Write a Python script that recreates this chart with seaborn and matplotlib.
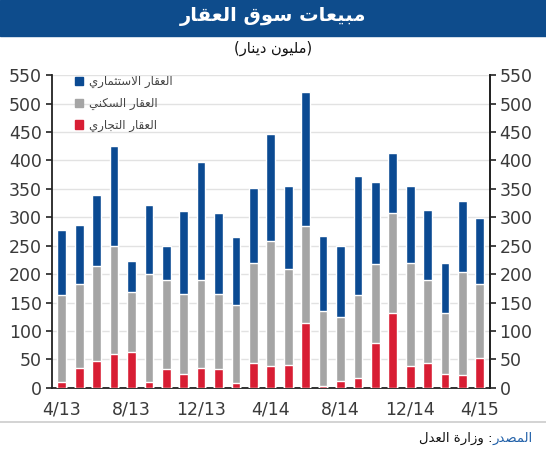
import numpy as np
import pandas as pd
import matplotlib
matplotlib.use("Agg")
import matplotlib.pyplot as plt
import seaborn as sns
from matplotlib.patches import Rectangle, Patch
from matplotlib.lines import Line2D

# --- data (million KD) ---
months = ["4/13", "5/13", "6/13", "7/13", "8/13", "9/13", "10/13", "11/13", "12/13",
          "1/14", "2/14", "3/14", "4/14", "5/14", "6/14", "7/14", "8/14", "9/14",
          "10/14", "11/14", "12/14", "1/15", "2/15", "3/15", "4/15"]
commercial = [11, 35, 48, 60, 64, 11, 33, 24, 35, 33, 8, 43, 38,
              40, 115, 3, 13, 17, 79, 131, 39, 44, 25, 22, 53]
residential = [152, 148, 166, 190, 105, 189, 156, 141, 155, 133, 137, 176, 220,
               169, 170, 132, 112, 147, 139, 177, 180, 146, 107, 181, 130]
investment = [115, 104, 125, 176, 54, 121, 61, 146, 208, 141, 120, 132, 189,
              146, 236, 133, 125, 208, 144, 105, 136, 123, 88, 126, 115]
tick_labels = ["4/13", "8/13", "12/13", "4/14", "8/14", "12/14", "4/15"]

BLUE = "#0B4A92"
GREY = "#A5A5A5"
RED = "#D81E34"
BANNER = "#0E4C8C"

# --- tiny arabic shaper (presentation forms, visual order) ---
FORMS = {
    "ا": (0xFE8D, 0xFE8E, None, None), "ب": (0xFE8F, 0xFE90, 0xFE91, 0xFE92),
    "ة": (0xFE93, 0xFE94, None, None), "ت": (0xFE95, 0xFE96, 0xFE97, 0xFE98),
    "ث": (0xFE99, 0xFE9A, 0xFE9B, 0xFE9C), "ج": (0xFE9D, 0xFE9E, 0xFE9F, 0xFEA0),
    "د": (0xFEA9, 0xFEAA, None, None), "ر": (0xFEAD, 0xFEAE, None, None),
    "ز": (0xFEAF, 0xFEB0, None, None), "س": (0xFEB1, 0xFEB2, 0xFEB3, 0xFEB4),
    "ص": (0xFEB9, 0xFEBA, 0xFEBB, 0xFEBC), "ع": (0xFEC9, 0xFECA, 0xFECB, 0xFECC),
    "ق": (0xFED5, 0xFED6, 0xFED7, 0xFED8), "ك": (0xFED9, 0xFEDA, 0xFEDB, 0xFEDC),
    "ل": (0xFEDD, 0xFEDE, 0xFEDF, 0xFEE0), "م": (0xFEE1, 0xFEE2, 0xFEE3, 0xFEE4),
    "ن": (0xFEE5, 0xFEE6, 0xFEE7, 0xFEE8), "و": (0xFEED, 0xFEEE, None, None),
    "ي": (0xFEF1, 0xFEF2, 0xFEF3, 0xFEF4), "لا": (0xFEFB, 0xFEFC, None, None),
}


def shape(text):
    tokens, i = [], 0
    while i < len(text):
        if text[i] == "ل" and i + 1 < len(text) and text[i + 1] == "ا":
            tokens.append("لا")
            i += 2
        else:
            tokens.append(text[i])
            i += 1
    out = []
    for j, t in enumerate(tokens):
        if t not in FORMS:
            out.append(t)
            continue
        prev = tokens[j - 1] if j > 0 else None
        nxt = tokens[j + 1] if j + 1 < len(tokens) else None
        iso, fin, ini, med = FORMS[t]
        jp = prev in FORMS and FORMS[prev][2] is not None
        jn = nxt in FORMS and ini is not None
        if jp and jn:
            c = med
        elif jp:
            c = fin
        elif jn:
            c = ini
        else:
            c = iso
        out.append(chr(c))
    return "".join(reversed(out))


sns.set_style("white")
plt.rcParams["font.family"] = ["DejaVu Sans"]

df = pd.DataFrame({"month": months, "commercial": commercial,
                   "residential": residential, "investment": investment})
df["res_top"] = df["commercial"] + df["residential"]
df["total"] = df["res_top"] + df["investment"]

fig = plt.figure(figsize=(5.46, 4.5), dpi=100)
ax = fig.add_axes([0.095, 0.138, 0.802, 0.695])

kw = dict(ax=ax, x="month", order=months, width=0.5, saturation=1, zorder=3)
sns.barplot(data=df, y="total", color=BLUE, **kw)
sns.barplot(data=df, y="res_top", color=GREY, **kw)
sns.barplot(data=df, y="commercial", color=RED, **kw)

ax.set_ylim(0, 550)
ax.set_xlim(-0.57, 24.57)
ax.set_yticks(np.arange(0, 551, 50))
ax.yaxis.grid(True, color="#E2E2E2", linewidth=1, zorder=0)
ax.set_axisbelow(True)
ax.set_xlabel("")
ax.set_ylabel("")
ax.set_xticks(np.arange(0, 25, 4))
ax.set_xticklabels(tick_labels)
ax.set_xticks(np.arange(-0.5, 25, 1), minor=True)
ax.tick_params(axis="x", which="major", length=0, pad=9, labelsize=12.5, labelcolor="#3A3A3A")
ax.tick_params(axis="x", which="minor", length=5, width=1.2, color="#222222", direction="out")
ax.tick_params(axis="y", length=4, width=1.2, color="#222222", direction="out",
               labelsize=12.5, labelcolor="#3A3A3A", pad=3)
ax.spines["top"].set_visible(False)
for s in ["left", "right", "bottom"]:
    ax.spines[s].set_visible(True)
    ax.spines[s].set_color("#222222")
    ax.spines[s].set_linewidth(1.3)

ax2 = ax.twinx()
ax2.set_ylim(0, 550)
ax2.set_yticks(np.arange(0, 551, 50))
ax2.tick_params(axis="y", length=4, width=1.2, color="#222222", direction="out",
                labelsize=12.5, labelcolor="#3A3A3A", pad=3)
for s in ["top", "left", "bottom"]:
    ax2.spines[s].set_visible(False)
ax2.spines["right"].set_color("#222222")
ax2.spines["right"].set_linewidth(1.3)

# legend
handles = [Patch(color=BLUE), Patch(color=GREY), Patch(color=RED)]
labels = [shape("العقار الاستثماري"), shape("العقار السكني"), shape("العقار التجاري")]
ax.legend(handles, labels, loc="upper left", bbox_to_anchor=(0.028, 1.035),
          frameon=False, fontsize=8.5, handlelength=0.7, handleheight=0.7,
          handletextpad=0.5, labelspacing=0.75, labelcolor="#444444")

# title banner
fig.patches.append(Rectangle((0, 1 - 36 / 450), 1, 36 / 450, transform=fig.transFigure,
                             color=BANNER, zorder=0))
fig.text(0.5, 1 - 17 / 450, shape("مبيعات سوق العقار"), ha="center", va="center",
         color="white", fontsize=14, fontweight="bold")
fig.text(0.5, 1 - 48 / 450, "(" + shape("مليون دينار") + ")", ha="center", va="center",
         color="#111111", fontsize=10.5)

# bottom rule and source
fig.add_artist(Line2D([0, 1], [1 - 422 / 450] * 2, transform=fig.transFigure,
                      color="#CCCCCC", linewidth=1.2))
src = fig.text(533 / 546, 1 - 438 / 450, shape("المصدر"), ha="right", va="center",
               color="#1F5FA8", fontsize=9.5)
ax.annotate(shape("وزارة العدل") + " :", xy=(0, 0.5), xycoords=src, ha="right",
            va="center", color="#111111", fontsize=9.5, annotation_clip=False)

fig.savefig("out.png", dpi=100)
